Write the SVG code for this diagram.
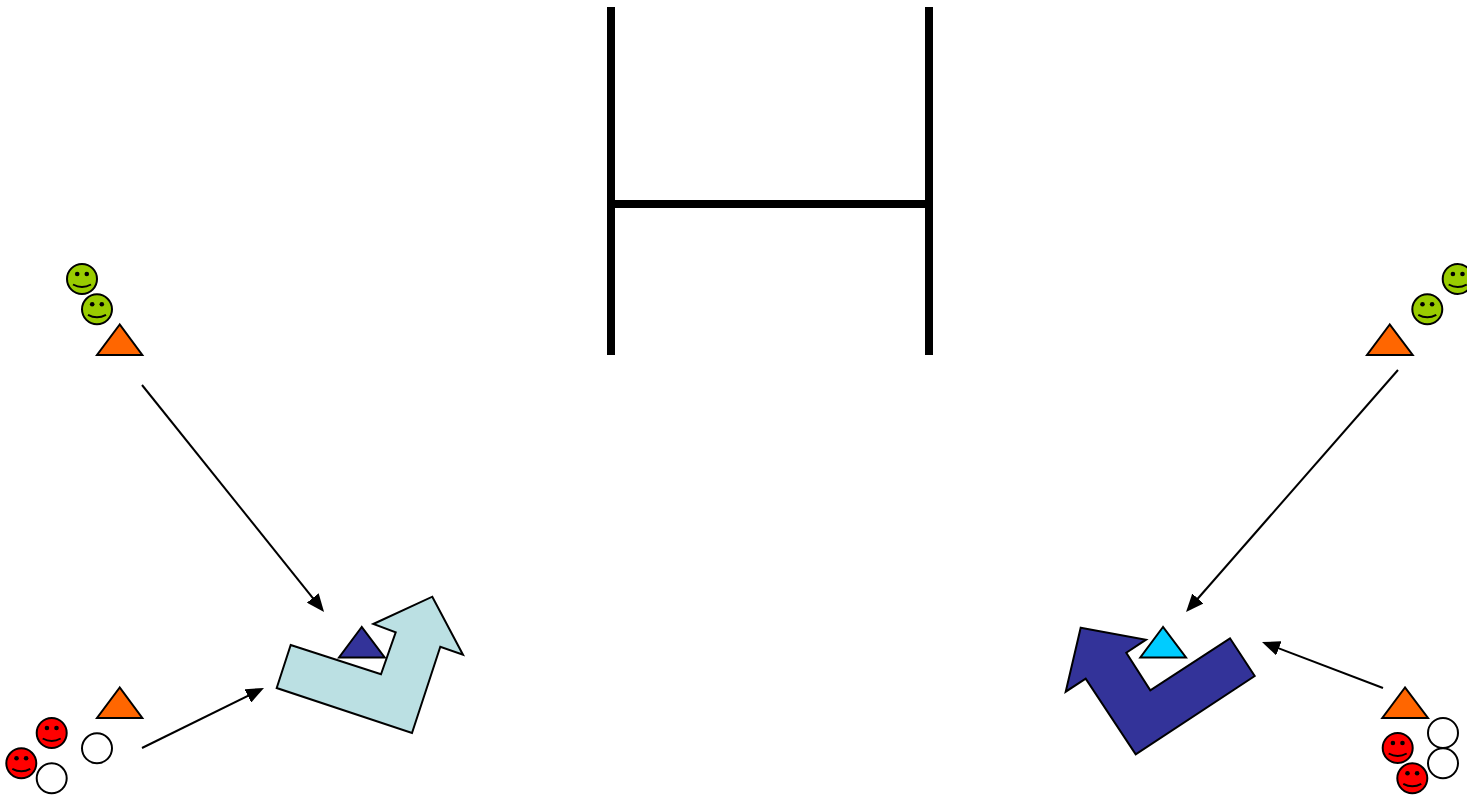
<svg xmlns="http://www.w3.org/2000/svg" width="1467" height="796" viewBox="0 0 1467 796">
<style>
.o{stroke:#000;stroke-width:2;stroke-linejoin:miter}
.c{stroke:#000;stroke-width:2;fill:none}
.bar{fill:#000}
.orange{fill:#ff6600}
.white{fill:#fff}
.navy{fill:#333399}
.cyan{fill:#00ccff}
.pale{fill:#bbe0e3}
.red{fill:#ff0000}
.lime{fill:#99cc00}
.eye{fill:#000;stroke:none}
.smile{fill:none;stroke:#000;stroke-width:2}
</style>
<defs>
<marker id="ah" markerUnits="userSpaceOnUse" markerWidth="18" markerHeight="15" refX="12" refY="7.5" orient="auto"><path d="M0 0L18 7.5L0 15Z" fill="#000"/></marker>
<g id="face"><circle class="eye" cx="-4.8" cy="-5" r="2.3"/><circle class="eye" cx="4.8" cy="-5" r="2.3"/><path class="smile" d="M-9 5.5Q0 10.5 9 5.5"/></g>
</defs>
<rect width="1467" height="796" fill="#fff"/>
<g id="goal"><rect class="bar" x="607" y="7" width="8" height="348"/><rect class="bar" x="925" y="7" width="8" height="348"/><rect class="bar" x="615" y="200" width="310" height="8"/></g>
<g id="connectors">
<line class="c" x1="142" y1="385" x2="320.3" y2="607.3" marker-end="url(#ah)"/>
<line class="c" x1="142" y1="748" x2="258.6" y2="690.6" marker-end="url(#ah)"/>
<line class="c" x1="1398" y1="370" x2="1190" y2="607.5" marker-end="url(#ah)"/>
<line class="c" x1="1383" y1="688" x2="1267.6" y2="644.1" marker-end="url(#ah)"/>
</g>
<g id="pale-arrow"><polygon class="o pale" points="290.7,645 381,674.3 395.7,632.3 373.3,624 432.3,596.7 463,654.7 440.3,646.7 412,733 276.7,688"/></g>
<g id="navy-triangle"><polygon class="o navy" points="361.7,627 339,657.5 384.7,657.5"/></g>
<g id="navy-arrow"><polygon class="o navy" points="1080.7,627.7 1146,639.7 1126.3,652.7 1150.3,690.3 1230,638.3 1254.7,676 1135.7,754.3 1085.7,678.7 1065.7,691.7"/></g>
<g id="cyan-triangle"><polygon class="o cyan" points="1163,627 1140.3,657.5 1186,657.5"/></g>
<g id="tri-tl"><polygon class="o orange" points="119.7,324.5 97,355 142.3,355"/></g>
<g id="tri-bl"><polygon class="o orange" points="119.7,687.5 97,718 142.3,718"/></g>
<g id="tri-tr"><polygon class="o orange" points="1389.7,324.5 1367,355 1412.7,355"/></g>
<g id="tri-br"><polygon class="o orange" points="1405,687.5 1382.3,718 1428,718"/></g>
<g id="green-1" transform="translate(82 279)"><circle class="o lime" r="15"/><use href="#face"/></g>
<g id="green-2" transform="translate(97 309.3)"><circle class="o lime" r="15"/><use href="#face"/></g>
<g id="green-3" transform="translate(1457.7 279)"><circle class="o lime" r="15"/><use href="#face"/></g>
<g id="green-4" transform="translate(1427.3 309.3)"><circle class="o lime" r="15"/><use href="#face"/></g>
<g id="red-1" transform="translate(51.7 733)"><circle class="o red" r="15"/><use href="#face"/></g>
<g id="red-2" transform="translate(21.3 763.3)"><circle class="o red" r="15"/><use href="#face"/></g>
<g id="red-3" transform="translate(1397.7 748)"><circle class="o red" r="15"/><use href="#face"/></g>
<g id="red-4" transform="translate(1412.3 778.3)"><circle class="o red" r="15"/><use href="#face"/></g>
<g id="white-1"><circle class="o white" cx="97" cy="748.3" r="15"/></g>
<g id="white-2"><circle class="o white" cx="51.7" cy="778.3" r="15"/></g>
<g id="white-3"><circle class="o white" cx="1443" cy="733" r="15"/></g>
<g id="white-4"><circle class="o white" cx="1443" cy="763.3" r="15"/></g>
</svg>
